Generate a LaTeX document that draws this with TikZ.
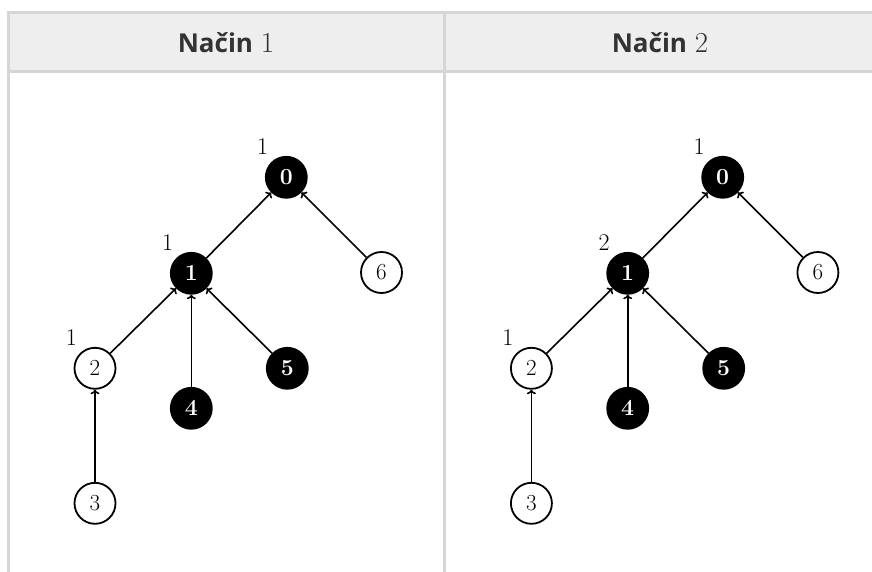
\documentclass[tikz,border=0pt]{standalone}
\usepackage{fontspec}
\newfontfamily\headfont{Open Sans}
\usetikzlibrary{calc,arrows.meta}
\definecolor{bordergray}{HTML}{D6D6D6}
\definecolor{headbg}{HTML}{EEEEEE}
\definecolor{headtext}{HTML}{333333}
\newcommand{\hdrnum}[1]{{\fontsize{29}{30}\selectfont\rmfamily\mdseries #1}}
\begin{document}
\begin{tikzpicture}[x=1pt,y=-1pt,
  blk/.style={circle,fill=black,draw=black,line width=1.8pt,minimum size=41pt,inner sep=0pt,
    text=white,font=\fontsize{23}{23}\selectfont\bfseries},
  wht/.style={circle,fill=white,draw=black,line width=1.8pt,minimum size=41pt,inner sep=0pt,
    text=black,font=\fontsize{23}{23}\selectfont},
  lbl/.style={inner sep=0pt,font=\fontsize{24}{24}\selectfont},
  edge/.style={line width=1.6pt,draw=black,-{To[length=4.5pt,width=9pt]}},
  hdr/.style={anchor=base,inner sep=0pt,text=headtext,font=\fontsize{26}{27}\selectfont},
  rule/.style={draw=bordergray,line width=3pt}]
\useasboundingbox (0,0) rectangle (872,572);
% table
\fill[headbg] (10,14) rectangle (872,70);
\draw[rule] (7,12.5) -- (872,12.5);
\draw[rule] (7,71.5) -- (872,71.5);
\draw[rule] (8.5,11) -- (8.5,572);
\draw[rule] (444.5,11) -- (444.5,572);
\node[hdr] (h1) at (226,52.3) {{\headfont\bfseries Način} \hdrnum{1}};
\node[hdr] (h2) at (660,52.3) {{\headfont\bfseries Način} \hdrnum{2}};
% left tree
\node[blk] (a0) at (286.3,177.3) {0};
\node[blk] (a1) at (191.3,273.3) {1};
\node[wht] (a6) at (381.5,272.5) {6};
\node[wht] (a2) at (95,368.3) {2};
\node[blk] (a5) at (287.3,368.3) {5};
\node[blk] (a4) at (191.3,408.3) {4};
\node[wht] (a3) at (95,503.3) {3};
\node[lbl] (la0) at ($(a0)+(-23.6,-30.6)$) {1};
\node[lbl] (la1) at ($(a1)+(-23.6,-30.6)$) {1};
\node[lbl] (la2) at ($(a2)+(-23.6,-30.6)$) {1};
\draw[edge] (a1) -- (a0);
\draw[edge] (a6) -- (a0);
\draw[edge] (a2) -- (a1);
\draw[edge] (a4) -- (a1);
\draw[edge] (a5) -- (a1);
\draw[edge] (a3) -- (a2);
% right tree
\begin{scope}[xshift=436.4pt]
\node[blk] (b0) at (286.3,177.3) {0};
\node[blk] (b1) at (191.3,273.3) {1};
\node[wht] (b6) at (381.5,272.5) {6};
\node[wht] (b2) at (95,368.3) {2};
\node[blk] (b5) at (287.3,368.3) {5};
\node[blk] (b4) at (191.3,408.3) {4};
\node[wht] (b3) at (95,503.3) {3};
\node[lbl] (lb0) at ($(b0)+(-23.6,-30.6)$) {1};
\node[lbl] (lb1) at ($(b1)+(-23.6,-30.6)$) {2};
\node[lbl] (lb2) at ($(b2)+(-23.6,-30.6)$) {1};
\draw[edge] (b1) -- (b0);
\draw[edge] (b6) -- (b0);
\draw[edge] (b2) -- (b1);
\draw[edge] (b4) -- (b1);
\draw[edge] (b5) -- (b1);
\draw[edge] (b3) -- (b2);
\end{scope}
\end{tikzpicture}
\end{document}
